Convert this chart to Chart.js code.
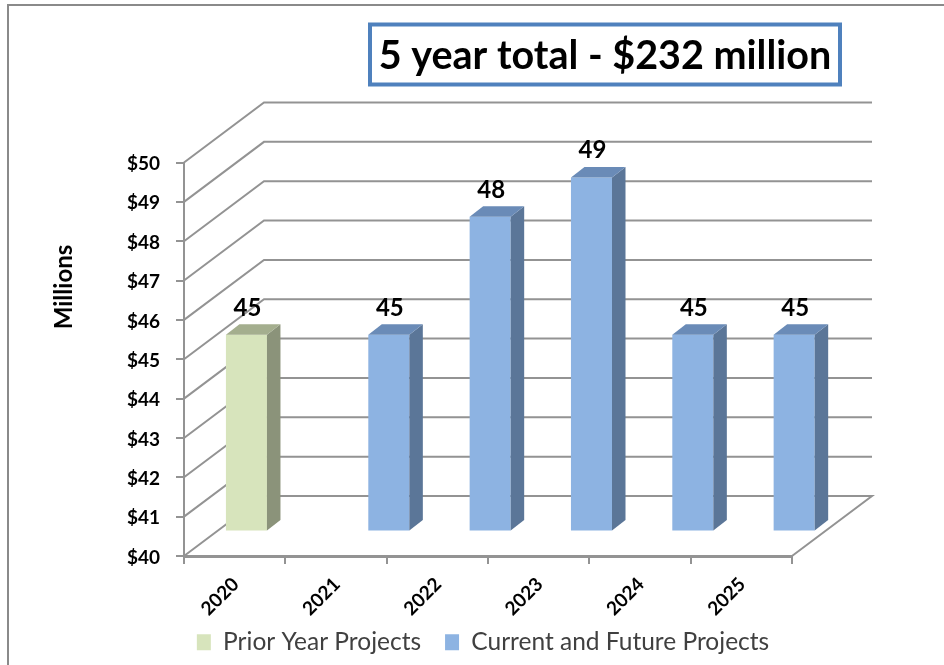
<!DOCTYPE html>
<html>
<head>
<meta charset="utf-8">
<style>html,body{margin:0;padding:0;background:#fff}canvas{display:block}</style>
<script src="https://cdn.jsdelivr.net/npm/chart.js@4"></script>
</head>
<body>
<canvas id="c" width="944" height="665"></canvas>
<script>
const categories = ['2020','2021','2022','2023','2024','2025'];
const priorYearProjects = [45,null,null,null,null,null];
const currentAndFutureProjects = [null,45,48,49,45,45];
const seriesNames = ['Prior Year Projects','Current and Future Projects'];
const headline = '5 year total - $232 million';
const axisTitle = 'Millions';
const axisMin = 40;
const axisMax = 50;

const FONT = 'Lato, Carlito, sans-serif';
const GRID = '#939393';
const depth = {x:80, y:60};
const barShift = {x:32.3, y:24.4};
const barDepth = {x:13.5, y:10.5};
const faces = [
  {front:'#d7e4bc', side:'#8b937a', top:'#a4ae8e'},
  {front:'#8db3e2', side:'#5b7698', top:'#6a8bb7'}
];

const scene = {
  id:'scene',
  afterLayout(chart){
    const l = chart.legend, h = l.bottom - l.top;
    l.left = 22; l.right = 944;
    l.top = 606; l.bottom = 606 + h;
    chart.scales.x.bottom += 60;
  },
  beforeDraw(chart){
    const c = chart.ctx;
    c.save();
    c.strokeStyle = '#8a8a8a'; c.lineWidth = 2;
    c.beginPath(); c.moveTo(8,665); c.lineTo(8,5); c.lineTo(944,5); c.stroke();
    c.restore();
  },
  beforeDatasetsDraw(chart){
    const c = chart.ctx, y = chart.scales.y, a = chart.chartArea;
    c.save();
    c.strokeStyle = GRID; c.lineWidth = 2; c.lineJoin = 'miter';
    y.ticks.forEach(t => {
      const py = y.getPixelForValue(t.value);
      c.beginPath();
      c.moveTo(a.left, py);
      c.lineTo(a.left + depth.x, py - depth.y);
      c.lineTo(a.right + depth.x, py - depth.y);
      if (t.value === y.min) c.lineTo(a.right, py);
      c.stroke();
    });
    c.restore();
    c.save();
    c.translate(barShift.x, -barShift.y);
  },
  afterDatasetsDraw(chart){
    const c = chart.ctx;
    chart.data.datasets.forEach((ds,i) => {
      const f = faces[i];
      chart.getDatasetMeta(i).data.forEach((el,j) => {
        if (ds.data[j] == null) return;
        const p = el.getProps(['x','y','base','width'], true);
        const L = p.x - p.width/2, R = p.x + p.width/2;
        c.fillStyle = f.side;
        c.beginPath();
        c.moveTo(R,p.y); c.lineTo(R+barDepth.x,p.y-barDepth.y);
        c.lineTo(R+barDepth.x,p.base-barDepth.y); c.lineTo(R,p.base);
        c.closePath(); c.fill();
        c.fillStyle = f.top;
        c.beginPath();
        c.moveTo(L,p.y); c.lineTo(L+barDepth.x,p.y-barDepth.y);
        c.lineTo(R+barDepth.x,p.y-barDepth.y); c.lineTo(R,p.y);
        c.closePath(); c.fill();
      });
    });
    c.restore();
    c.save();
    c.fillStyle = '#000';
    c.font = 'bold 24px ' + FONT;
    c.textAlign = 'center'; c.textBaseline = 'middle';
    chart.data.datasets.forEach((ds,i) => {
      chart.getDatasetMeta(i).data.forEach((el,j) => {
        if (ds.data[j] == null) return;
        const p = el.getProps(['x','y'], true);
        c.fillText(String(ds.data[j]), p.x + barShift.x + 1, p.y - barShift.y - 27);
      });
    });
    c.restore();
  },
  afterDraw(chart){
    const c = chart.ctx;
    c.save();
    c.strokeStyle = '#4f81bd'; c.lineWidth = 4;
    c.fillStyle = '#fff';
    c.beginPath(); c.rect(370,24.5,470,60); c.fill(); c.stroke();
    c.fillStyle = '#000';
    c.font = 'bold 39.5px ' + FONT;
    c.textAlign = 'center'; c.textBaseline = 'middle';
    c.fillText(headline, 605, 56);
    c.restore();
    c.save();
    c.translate(64,287);
    c.rotate(-Math.PI/2);
    c.fillStyle = '#000';
    c.font = 'bold 24px ' + FONT;
    c.textAlign = 'center'; c.textBaseline = 'middle';
    c.fillText(axisTitle, 0, 0);
    c.restore();
  }
};

new Chart(document.getElementById('c'), {
  type:'bar',
  data:{
    labels:categories,
    datasets:[
      {label:seriesNames[0], data:priorYearProjects, backgroundColor:faces[0].front, borderWidth:0, base:axisMin},
      {label:seriesNames[1], data:currentAndFutureProjects, backgroundColor:faces[1].front, borderWidth:0, base:axisMin}
    ]
  },
  plugins:[scene],
  options:{
    responsive:false,
    animation:false,
    devicePixelRatio:1,
    layout:{padding:{left:40,right:152,top:162.5,bottom:0}},
    datasets:{bar:{categoryPercentage:0.81,barPercentage:1,clip:false}},
    plugins:{
      title:{display:false},
      tooltip:{enabled:false},
      legend:{
        display:true,position:'bottom',
        labels:{font:{family:FONT,size:24.5},color:'#404040',boxWidth:14,boxHeight:16,padding:24}
      }
    },
    scales:{
      x:{
        offset:true,
        afterFit(s){ s.height = 50.5; },
        grid:{offset:true,drawOnChartArea:false,drawTicks:true,tickLength:8,color:GRID,lineWidth:2},
        border:{display:true,color:GRID,width:3},
        ticks:{minRotation:45,maxRotation:45,autoSkip:false,padding:9,labelOffset:1,color:'#000',font:{family:FONT,size:19,weight:'bold'}}
      },
      y:{
        min:axisMin,max:axisMax,
        afterFit(s){ s.width = 144; },
        grid:{drawOnChartArea:false,drawTicks:true,tickLength:8,color:GRID,lineWidth:2},
        border:{display:true,color:GRID,width:2},
        ticks:{stepSize:1,padding:16,labelOffset:1.5,color:'#000',font:{family:FONT,size:19,weight:'bold'},callback:v=>'$'+v}
      }
    }
  }
});
</script>
</body>
</html>
